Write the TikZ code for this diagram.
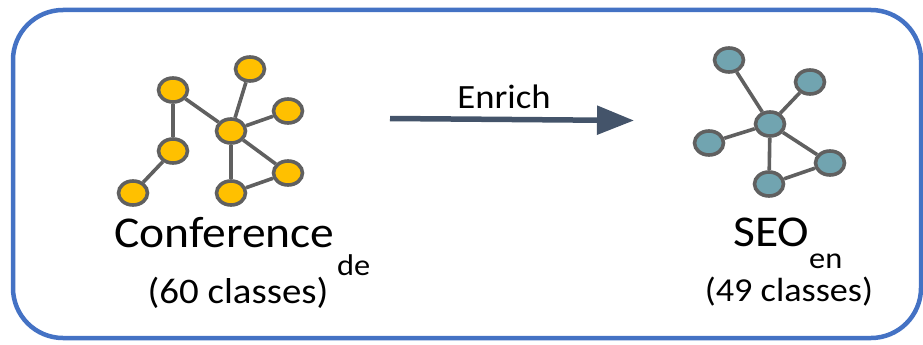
\documentclass[tikz,border=0pt]{standalone}
\usepackage{graphicx}
\usepackage{fontspec}
\setmainfont{Carlito}
\usetikzlibrary{shapes.geometric,arrows.meta}
\definecolor{frameblue}{HTML}{4472C4}
\definecolor{classyellow}{HTML}{FFC000}
\definecolor{classteal}{HTML}{71A4B0}
\definecolor{edgegray}{HTML}{606060}
\definecolor{arrowslate}{HTML}{44546A}
% slightly widened lettering
\newcommand{\widetext}[1]{\scalebox{1.08}[1]{#1}}
\tikzset{
  classnode/.style={ellipse, draw=edgegray, line width=3.6pt, minimum width=29pt, minimum height=24pt, inner sep=0pt},
  yclass/.style={classnode, fill=classyellow},
  tclass/.style={classnode, fill=classteal},
  relation/.style={draw=edgegray, line width=3.6pt},
  bigtext/.style={inner sep=0pt, font=\fontsize{44}{50}\selectfont},
  subtext/.style={inner sep=0pt, font=\fontsize{30}{34}\selectfont},
}
\begin{document}
\begin{tikzpicture}[x=1pt, y=-1pt]
  \useasboundingbox (0,0) rectangle (923,345);
  % outer frame
  \draw[frameblue, line width=4.5pt, rounded corners=50pt] (13,10) rectangle (921,338);

  % source ontology graph
  \node[yclass] (ya) at (173,90) {};
  \node[yclass] (yb) at (250,69) {};
  \node[yclass] (yc) at (288,111) {};
  \node[yclass] (yd) at (231,131) {};
  \node[yclass] (ye) at (173,151) {};
  \node[yclass] (yf) at (288,173) {};
  \node[yclass] (yg) at (231,193) {};
  \node[yclass] (yh) at (133,193) {};
  \path[relation] (ya) -- (ye) (ye) -- (yh) (ya) -- (yd) (yd) -- (yb)
                  (yd) -- (yc) (yd) -- (yg) (yd) -- (yf) (yg) -- (yf);

  % target ontology graph
  \node[tclass] (t1) at (729,60) {};
  \node[tclass] (t2) at (810,82) {};
  \node[tclass] (tc) at (770,124) {};
  \node[tclass] (t3) at (709,143) {};
  \node[tclass] (t4) at (830,163) {};
  \node[tclass] (t5) at (769,184) {};
  \path[relation] (t1) -- (tc) (t2) -- (tc) (t3) -- (tc)
                  (tc) -- (t4) (tc) -- (t5) (t5) -- (t4);

  % enrichment arrow
  \coordinate (arrstart) at (390,118.5);
  \coordinate (arrend) at (634,120.5);
  \draw[arrowslate, line width=5.5pt, -{Triangle[length=37pt, width=28pt]}] (arrstart) -- (arrend);
  \node[inner sep=0pt, font=\fontsize{34}{38}\selectfont, anchor=base] (enrich) at (504,108) {\widetext{Enrich}};

  % labels
  \node[bigtext, anchor=base west] (conf) at (114,247) {\widetext{Conference}};
  \node[subtext, anchor=base west] (confsub) at (337,275) {\widetext{de}};
  \node[inner sep=0pt, font=\fontsize{36}{40}\selectfont, anchor=base] (confcount) at (238,303) {\widetext{(60 classes)}};
  \node[bigtext, anchor=base west] (seo) at (733,246) {\widetext{SEO}};
  \node[subtext, anchor=base west] (seosub) at (809,268) {\widetext{en}};
  \node[inner sep=0pt, font=\fontsize{33.5}{38}\selectfont, anchor=base] (seocount) at (789,301) {\widetext{(49 classes)}};
\end{tikzpicture}
\end{document}
